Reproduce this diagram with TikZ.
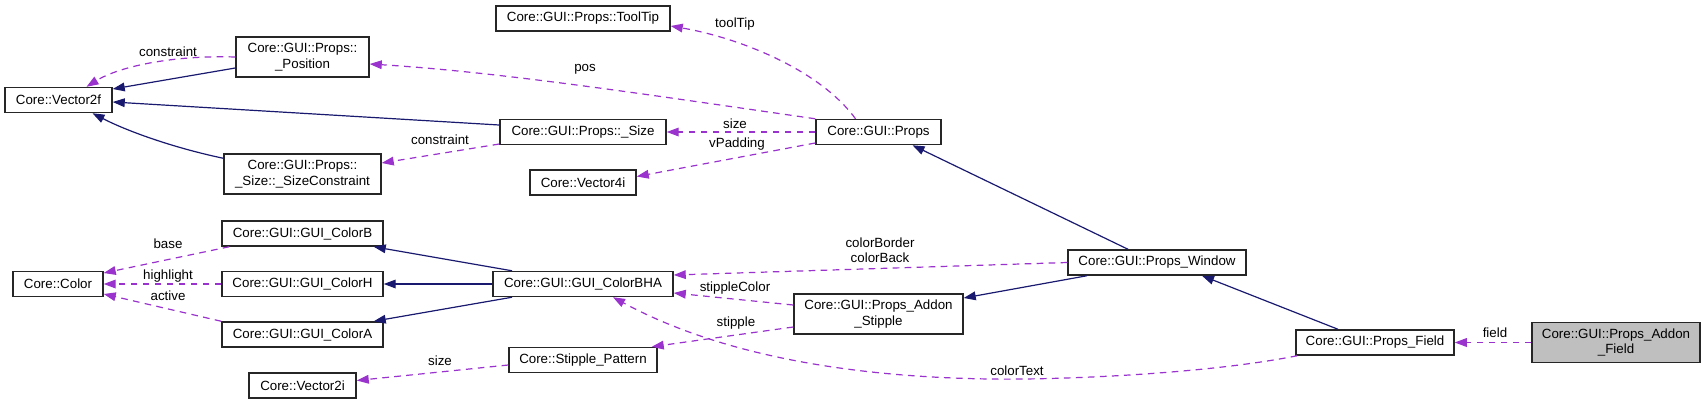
\documentclass[tikz,border=0pt]{standalone}
\usepackage{fontspec}
\setmainfont{Liberation Sans}
\usetikzlibrary{arrows.meta,calc}

\definecolor{edgeblue}{HTML}{191970}
\definecolor{edgepurple}{HTML}{9A32CD}
\definecolor{rootfill}{HTML}{BFBFBF}

\begin{document}
\begin{tikzpicture}[x=0.75pt, y=-0.75pt,
    cls/.style={draw=black!85, line width=1.1pt, rectangle, align=center, inner sep=1pt,
        font=\fontsize{10}{11.5}\selectfont, minimum height=18.75pt},
    tall/.style={minimum height=30pt},
    wd/.style={minimum width=#1*0.75pt},
    root/.style={fill=rootfill},
    inh/.style={draw=edgeblue, line width=0.9pt, -{Triangle[length=9pt,width=6.5pt]}},
    usage/.style={draw=edgepurple, line width=0.9pt, dash pattern=on 5pt off 4pt,
        -{Triangle[length=9pt,width=6.5pt]}},
    lbl/.style={font=\fontsize{10}{11.5}\selectfont, align=center, inner sep=0pt}]
    \useasboundingbox (0,0) rectangle (1705,404);

    % Klasės
    \node[cls, wd=107] (vecf) at (58.5,100) {Core::Vector2f};
    \node[cls, tall, wd=133] (pos) at (302.5,57) {Core::GUI::Props::\\\_Position};
    \node[cls, tall, wd=157] (sizec) at (302.5,174) {Core::GUI::Props::\\\_Size::\_SizeConstraint};
    \node[cls, wd=174] (tip) at (583,18.5) {Core::GUI::Props::ToolTip};
    \node[cls, wd=166] (sz) at (583,132) {Core::GUI::Props::\_Size};
    \node[cls, wd=106] (veci) at (583,182.5) {Core::Vector4i};
    \node[cls, wd=125] (props) at (878.5,132) {Core::GUI::Props};

    \node[cls, wd=90] (color) at (58,284) {Core::Color};
    \node[cls, wd=161] (colb) at (302.5,233.5) {Core::GUI::GUI\_ColorB};
    \node[cls, wd=161] (colh) at (302.5,284) {Core::GUI::GUI\_ColorH};
    \node[cls, wd=161] (cola) at (302.5,334.5) {Core::GUI::GUI\_ColorA};
    \node[cls, wd=107] (vecti) at (302.5,385.5) {Core::Vector2i};
    \node[cls, wd=180] (bha) at (583,284) {Core::GUI::GUI\_ColorBHA};
    \node[cls, wd=148] (patt) at (583,360) {Core::Stipple\_Pattern};
    \node[cls, tall, wd=169] (stip) at (878.5,314) {Core::GUI::Props\_Addon\\\_Stipple};
    \node[cls, wd=178] (win) at (1157,262.5) {Core::GUI::Props\_Window};
    \node[cls, wd=158] (field) at (1375,342.5) {Core::GUI::Props\_Field};
    \node[cls, tall, root, wd=168] (addon) at (1616,342.5) {Core::GUI::Props\_Addon\\\_Field};

    % Paveldėjimas
    \draw[inh] ($(pos.west)+(0,11)$) -- ($(vecf.east)+(0,-11)$);
    \draw[inh] ($(sz.west)+(0,-7)$) -- ($(vecf.east)+(0,2)$);
    \draw[inh] ($(sizec.north west)+(0,5)$) .. controls (170,147) and (125,130) .. ($(vecf.south)+(34,0)$);
    \draw[inh] ($(win.north)+(-29,0)$) -- ($(props.south)+(34,0)$);
    \draw[inh] ($(bha.north)+(-71,0)$) -- ($(colb.south east)+(-10,0)$);
    \draw[inh] (bha.west) -- (colh.east);
    \draw[inh] ($(bha.south)+(-71,0)$) -- ($(cola.north east)+(-10,0)$);
    \draw[inh] ($(win.south)+(-70,0)$) -- ($(stip.east)+(0,-16)$);
    \draw[inh] ($(field.north)+(-37,0)$) -- ($(win.south)+(45,0)$);

    % Naudojimas
    \draw[usage] (pos.west) .. controls (175,55) and (120,66) .. ($(vecf.north)+(28,0)$);
    \draw[usage] (props.north west) .. controls (650,95) and (500,72) .. ($(pos.east)+(0,7)$);
    \draw[usage] ($(props.north)+(-23,0)$) .. controls (820,70) and (740,38) .. ($(tip.east)+(0,7.5)$);
    \draw[usage] (props.west) -- (sz.east);
    \draw[usage] ($(props.west)+(0,11)$) -- ($(veci.east)+(0,-6)$);
    \draw[usage] ($(sz.west)+(0,12)$) -- ($(sizec.east)+(0,-11)$);
    \draw[usage] ($(colb.south west)+(8,0)$) -- ($(color.east)+(0,-11)$);
    \draw[usage] (colh.west) -- (color.east);
    \draw[usage] (cola.north west) -- ($(color.east)+(0,10)$);
    \draw[usage] (win.west) -- ($(bha.east)+(0,-9)$);
    \draw[usage] ($(stip.west)+(0,-9)$) -- ($(bha.east)+(0,9)$);
    \draw[usage] ($(stip.west)+(0,13)$) -- ($(patt.north east)+(-6,0)$);
    \draw[usage] ($(patt.west)+(0,5)$) -- ($(vecti.east)+(0,-5)$);
    \coordinate (ctbend) at (990,379);
    \draw[usage] ($(field.south west)+(2,0)$) .. controls (1200,375) and (1050,380) .. (ctbend)
        .. controls (850,377) and (720,355) .. ($(bha.south)+(30,0)$);
    \draw[usage] (addon.west) -- (field.east);

    % Užrašai
    \foreach \x/\y/\t in {168/52/constraint, 585/69/pos, 735/24/toolTip, 735/124/size,
        737/144/vPadding, 440/140/constraint, 168/244/base, 168/276/highlight, 168/296/active,
        880/250/{colorBorder\\colorBack}, 735/288/stippleColor, 736/323/stipple, 440/361/size,
        1017/371/colorText, 1495/333/field} {
        \node[lbl] at (\x,\y) {\t};
    }
\end{tikzpicture}
\end{document}
